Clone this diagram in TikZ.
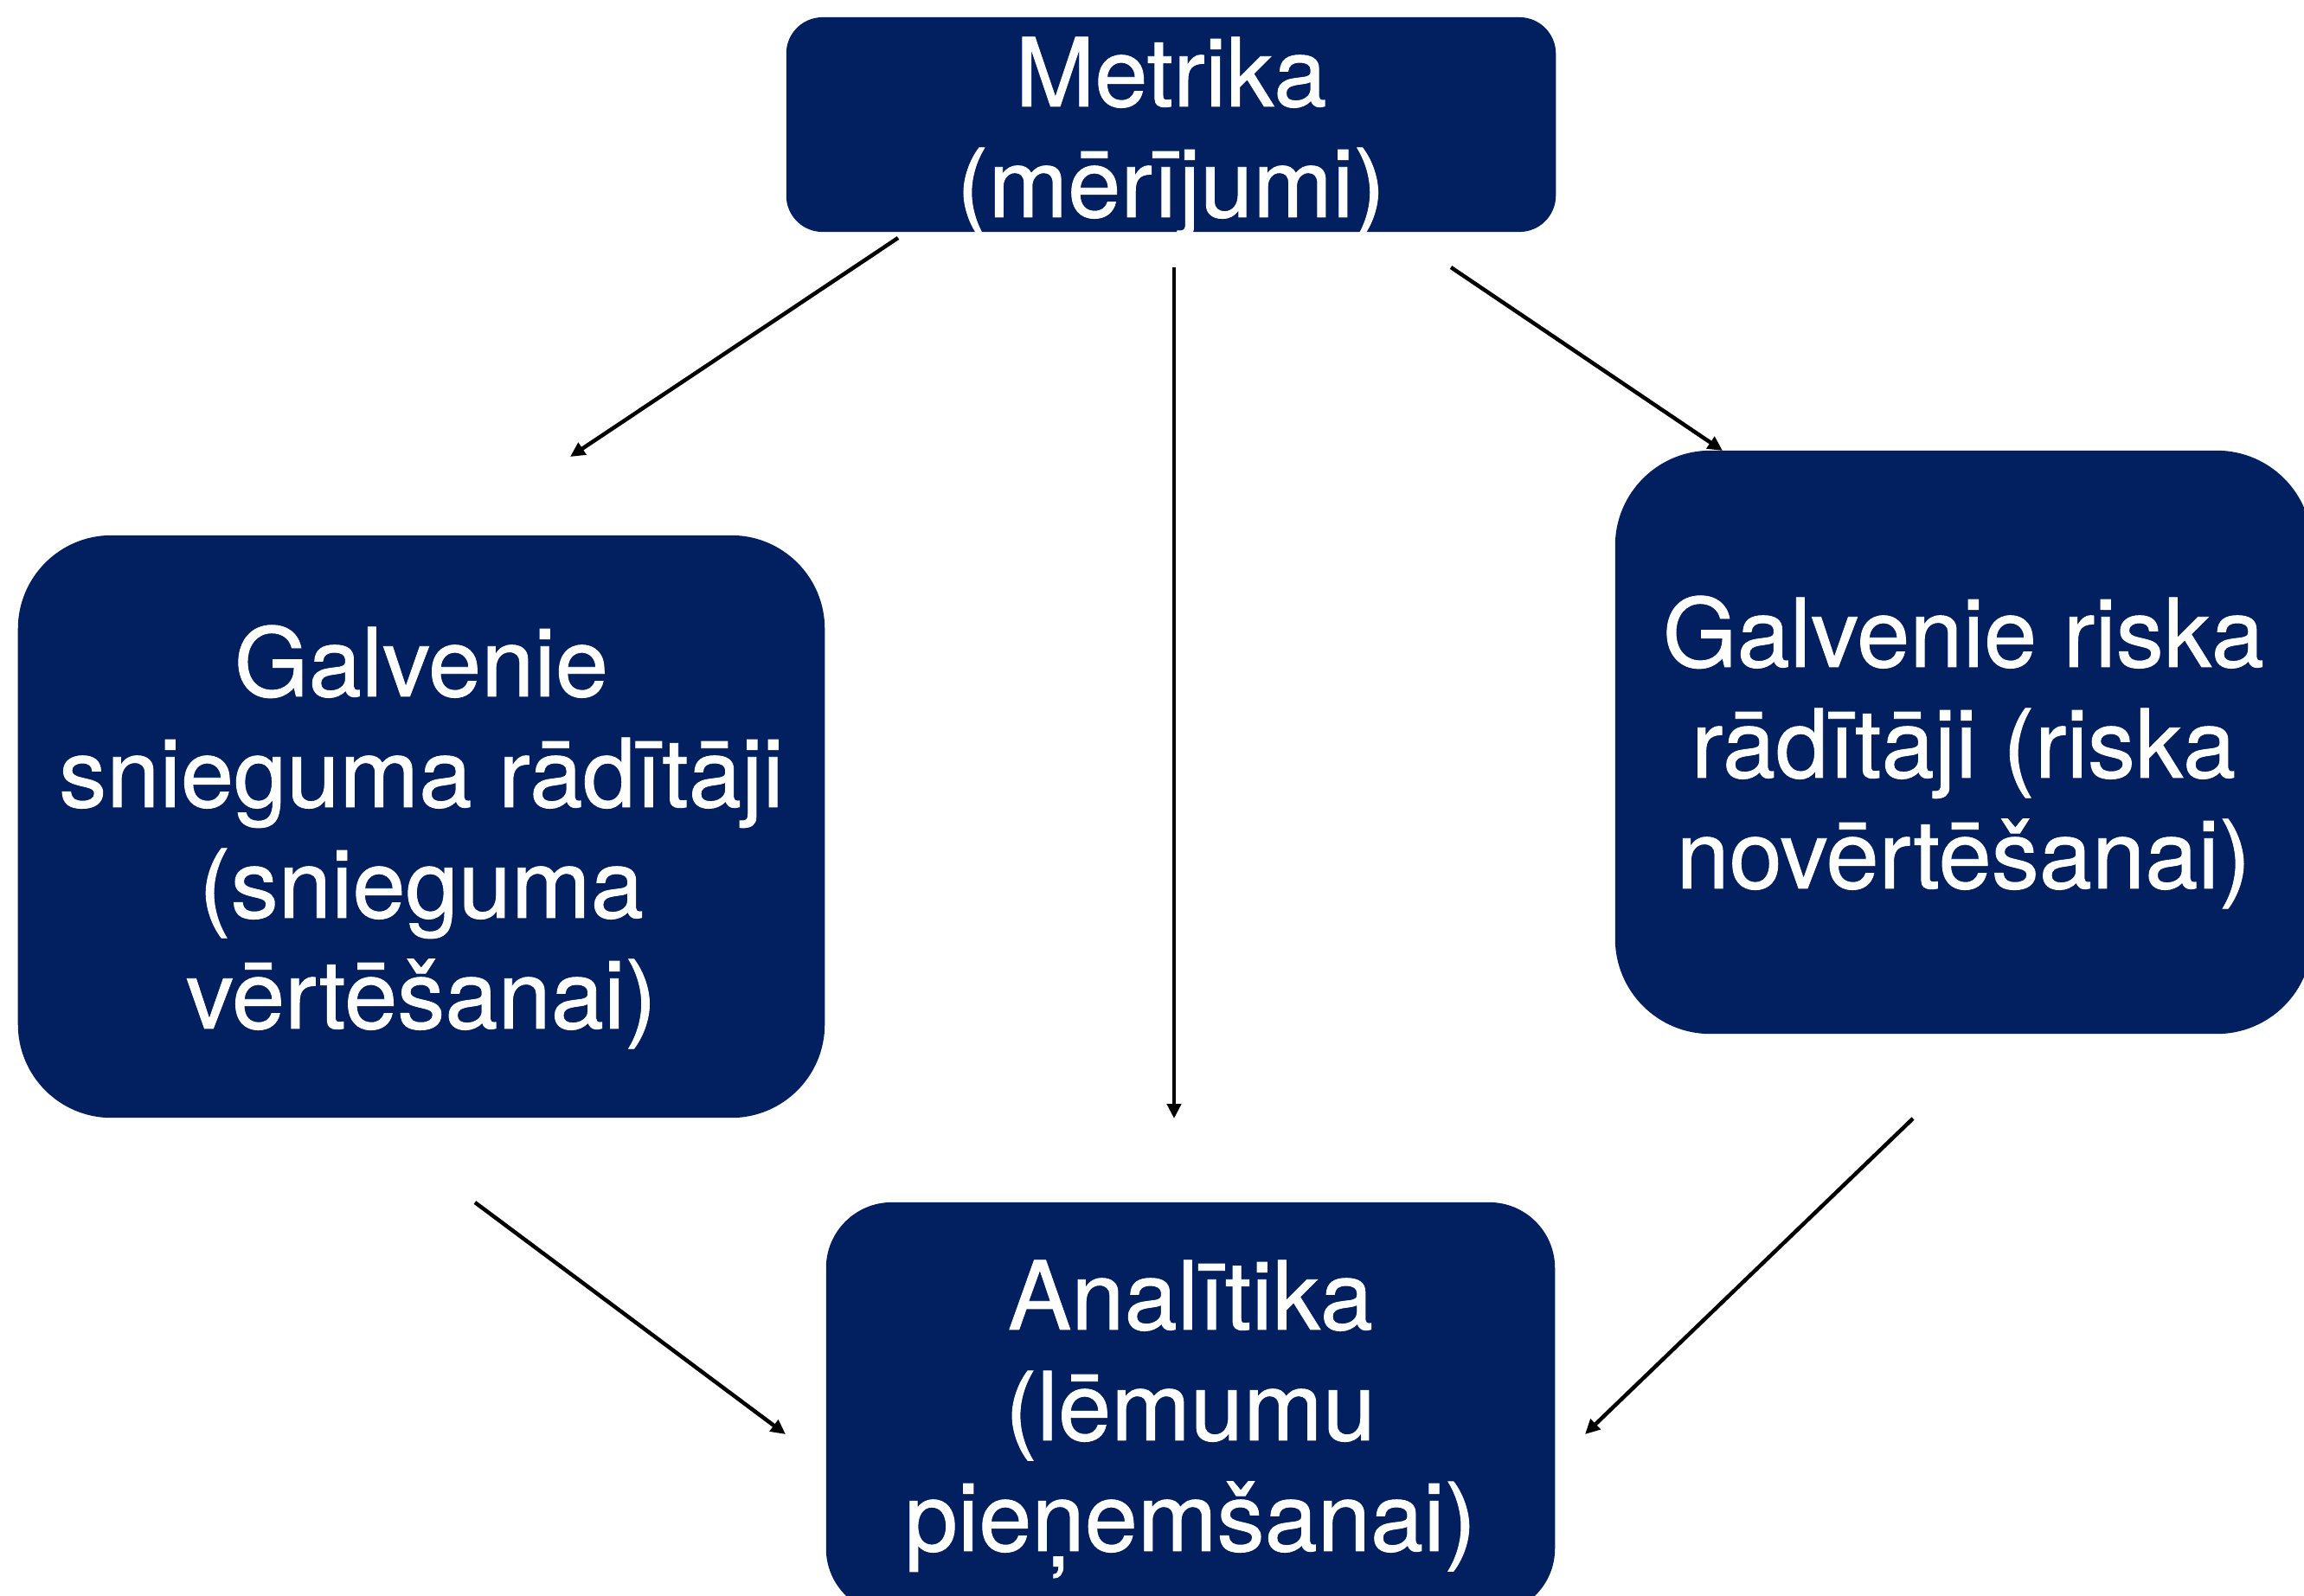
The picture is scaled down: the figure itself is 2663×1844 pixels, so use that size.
\documentclass[tikz,border=0pt]{standalone}
\usepackage{fontspec}
\setmainfont{TeX Gyre Heros}[FakeBold=0.8]
\usetikzlibrary{arrows.meta}
\definecolor{navy}{RGB}{2,32,96}
\begin{document}
\begin{tikzpicture}[x=0.01cm,y=-0.01cm,
  box/.style={fill=navy, draw=none, rectangle, inner sep=0pt},
  lbl/.style={text=white, align=center, inner sep=0pt, anchor=north, font=\fontsize{31.3pt}{36.4pt}\selectfont},
  conn/.style={draw=black, line width=0.045cm, -{Triangle[length=0.17cm,width=0.16cm]}}]
\clip (0,0) rectangle (2663,1844);
\fill[white] (0,0) rectangle (2663,1844);
% boxes
\node[box, rounded corners=0.42cm, minimum width=8.89cm, minimum height=2.48cm] (metr) at (1353.5,144) {};
\node[box, rounded corners=1.08cm, minimum width=9.32cm, minimum height=6.73cm] (snieg) at (487,955.5) {};
\node[box, rounded corners=1.10cm, minimum width=8.05cm, minimum height=6.74cm] (risk) at (2269.5,858) {};
\node[box, rounded corners=0.76cm, minimum width=8.42cm, minimum height=4.76cm] (anal) at (1376,1628) {};
% texts
\node[lbl] (metrt) at (1353.5,42) {Metrika\\(mērījumi)};
\node[lbl] (sniegt) at (487,722) {Galvenie\\snieguma rādītāji\\(snieguma\\vērtēšanai)};
\node[lbl] (riskt) at (2269.5,688) {Galvenie riska\\rādītāji (riska\\novērtēšanai)};
\node[lbl] (analt) at (1376,1456) {Analītika\\(lēmumu\\pieņemšanai)};
% connectors
\coordinate (a1s) at (1038,275); \coordinate (a1e) at (659,528);
\coordinate (a2s) at (1357,309); \coordinate (a2e) at (1357,1293);
\coordinate (a3s) at (1677,309); \coordinate (a3e) at (1991,521);
\coordinate (a4s) at (549,1390); \coordinate (a4e) at (908,1658);
\coordinate (a5s) at (2211,1293); \coordinate (a5e) at (1832,1658);
\draw[conn] (a1s) -- (a1e);
\draw[conn] (a2s) -- (a2e);
\draw[conn] (a3s) -- (a3e);
\draw[conn] (a4s) -- (a4e);
\draw[conn] (a5s) -- (a5e);
\end{tikzpicture}
\end{document}
